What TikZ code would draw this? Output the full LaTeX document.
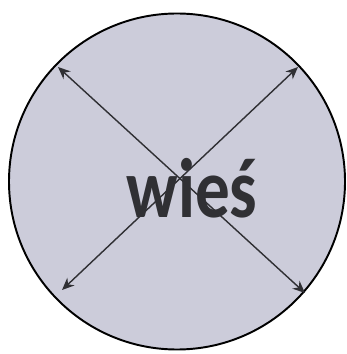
\documentclass[tikz,border=0pt]{standalone}
\usepackage{fontspec}
\setmainfont{Carlito}
\usepackage{tikz}
\usetikzlibrary{arrows.meta}
\definecolor{villagefill}{RGB}{204,204,218}
\definecolor{inkgray}{RGB}{48,48,52}

\begin{document}
\begin{tikzpicture}[
    x=0.02cm, y=-0.02cm,
    area/.style={draw=black,line width=1.1pt,fill=villagefill,circle,
      minimum size=336*0.02cm,inner sep=0pt},
    arrow/.style={{Stealth[length=7pt,width=6pt]}-{Stealth[length=7pt,width=6pt]},
      line width=0.8pt,draw=inkgray,fill=inkgray},
    lbl/.style={font=\bfseries\fontsize{48}{55}\selectfont,text=inkgray,xscale=0.82,
      anchor=base,inner sep=0pt}
  ]
  \useasboundingbox (0,0) rectangle (347,354);

  \node[area] (village) at (177,181.5) {};

  \coordinate (nw) at (58,67);
  \coordinate (ne) at (298,67);
  \coordinate (sw) at (62,290);
  \coordinate (se) at (305,293);

  \draw[arrow] (nw) -- (se);
  \draw[arrow] (ne) -- (sw);

  \node[lbl] (name) at (192,217) {wieś};
\end{tikzpicture}
\end{document}
